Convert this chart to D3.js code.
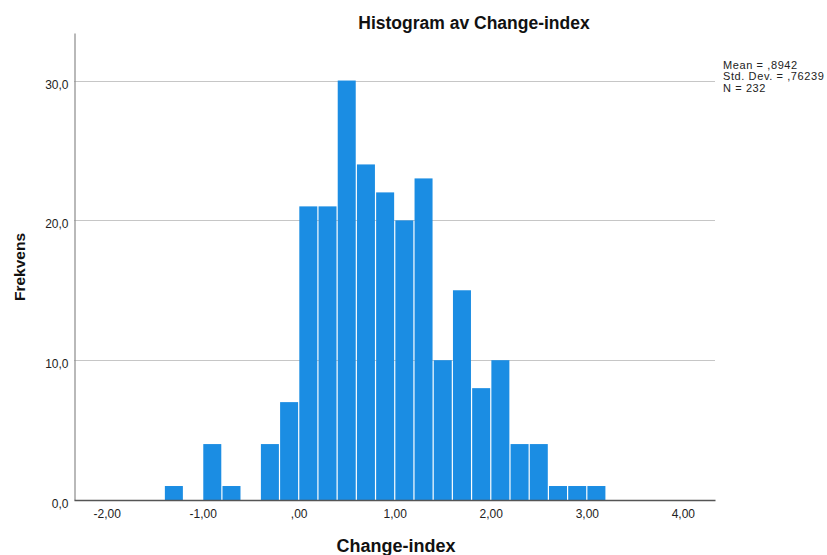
<!DOCTYPE html>
<html>
<head>
<meta charset="utf-8">
<script src="https://cdn.jsdelivr.net/npm/d3@7"></script>
<style>
  html, body { margin: 0; padding: 0; background: #fff; }
  svg { display: block; font-family: "Liberation Sans", Arial, sans-serif; }
</style>
</head>
<body>
<svg id="chart" width="827" height="555"></svg>
<script>
// Histogram bins of Change-index (width 0.2)
const binStarts = [-1.4, -1.2, -1.0, -0.8, -0.6, -0.4, -0.2, 0.0, 0.2, 0.4, 0.6, 0.8,
                   1.0, 1.2, 1.4, 1.6, 1.8, 2.0, 2.2, 2.4, 2.6, 2.8, 3.0];
const binWidth = 0.2;
const counts = [1, 0, 4, 1, 0, 4, 7, 21, 21, 30, 24, 22,
                20, 23, 10, 15, 8, 10, 4, 4, 1, 1, 1];

const xTickValues = [-2, -1, 0, 1, 2, 3, 4];
const xTickLabels = ["-2,00", "-1,00", ",00", "1,00", "2,00", "3,00", "4,00"];
const yTickValues = [0, 10, 20, 30];
const yTickLabels = ["0,0", "10,0", "20,0", "30,0"];

const statLines = ["Mean = ,8942", "Std. Dev. = ,76239", "N = 232"];
const titleText = "Histogram av Change-index";
const xTitle = "Change-index";
const yTitle = "Frekvens";

const svg = d3.select("#chart");

const x = d3.scaleLinear().domain([-2.34, 4.335]).range([74, 715]);
const y = d3.scaleLinear().domain([0, 33.4]).range([500, 33]);

// Horizontal gridlines
svg.append("g")
  .selectAll("line")
  .data(yTickValues.filter(v => v > 0))
  .join("line")
  .attr("x1", x.range()[0]).attr("x2", x.range()[1])
  .attr("y1", d => Math.round(y(d)) + 0.5).attr("y2", d => Math.round(y(d)) + 0.5)
  .attr("stroke", "#c6c6c6").attr("stroke-width", 1.2);

// Bars
const bins = binStarts.map((s, i) => ({ x0: s, x1: s + binWidth, n: counts[i] }));
svg.append("g")
  .selectAll("rect")
  .data(bins.filter(b => b.n > 0))
  .join("rect")
  .attr("x", d => x(d.x0) + 0.6)
  .attr("width", d => x(d.x1) - x(d.x0) - 1.2)
  .attr("y", d => y(d.n))
  .attr("height", d => y(0) - y(d.n))
  .attr("fill", "#1b8de3");

// Y axis
const yAxis = d3.axisLeft(y)
  .tickValues(yTickValues)
  .tickFormat((d, i) => yTickLabels[i])
  .tickSize(0)
  .tickPadding(6);
const gy = svg.append("g").attr("transform", "translate(74.5,0)").call(yAxis);
gy.select(".domain").attr("stroke", "#8a8a8a").attr("stroke-width", 1.2);
gy.selectAll("text")
  .attr("font-size", 12)
  .attr("font-family", "Liberation Sans, Arial, sans-serif")
  .attr("fill", "#222")
  .attr("dy", 0)
  .attr("y", 7.5);

// X axis
const xAxis = d3.axisBottom(x)
  .tickValues(xTickValues)
  .tickFormat((d, i) => xTickLabels[i])
  .tickSize(0)
  .tickPadding(9.5);
const gx = svg.append("g").attr("transform", "translate(0,500)").call(xAxis);
gx.select(".domain").attr("stroke", "#555").attr("stroke-width", 1.4);
gx.selectAll("text")
  .attr("font-size", 12)
  .attr("font-family", "Liberation Sans, Arial, sans-serif")
  .attr("fill", "#222");

// Titles
svg.append("text")
  .attr("x", 474).attr("y", 29)
  .attr("text-anchor", "middle")
  .attr("font-size", 17.5).attr("font-weight", "bold").attr("fill", "#111")
  .text(titleText);

svg.append("text")
  .attr("x", 396).attr("y", 552)
  .attr("text-anchor", "middle")
  .attr("font-size", 18).attr("font-weight", "bold").attr("fill", "#111")
  .text(xTitle);

svg.append("text")
  .attr("transform", "translate(25,267) rotate(-90)")
  .attr("text-anchor", "middle")
  .attr("font-size", 15.5).attr("font-weight", "bold").attr("fill", "#111")
  .text(yTitle);

// Summary statistics
svg.append("g")
  .selectAll("text")
  .data(statLines)
  .join("text")
  .attr("x", 723)
  .attr("y", (d, i) => 68.5 + i * 11.5)
  .attr("font-size", 11)
  .attr("letter-spacing", 0.6)
  .attr("fill", "#222")
  .text(d => d);
</script>
</body>
</html>
